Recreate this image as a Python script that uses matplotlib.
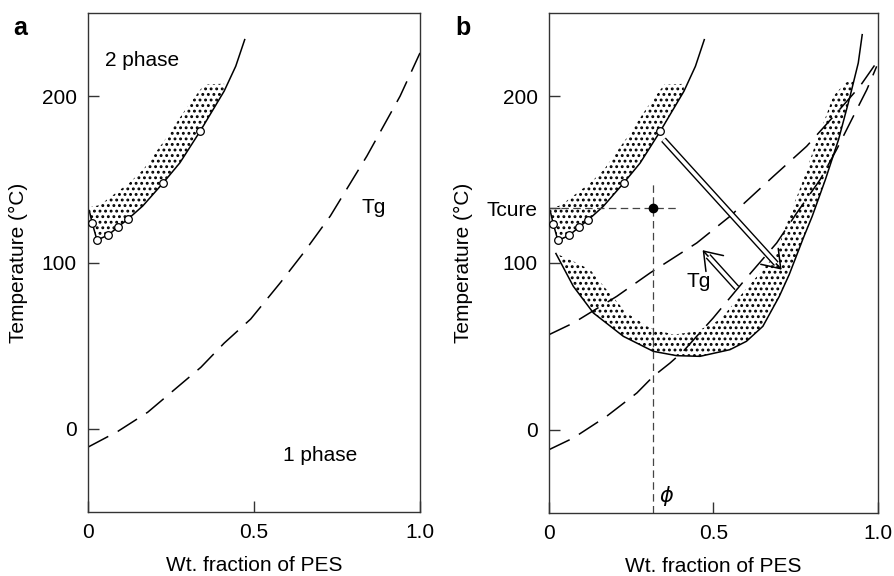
import matplotlib.pyplot as plt

plt.rcParams['font.family'] = ['Liberation Sans', 'DejaVu Sans']
plt.rcParams['hatch.linewidth'] = 1.3

# cloud point curve (solid) and measured points (open circles)
bin_x = [0.004, 0.013, 0.027, 0.061, 0.091, 0.12, 0.165, 0.227, 0.277, 0.338, 0.41, 0.445, 0.472]
bin_y = [131, 123.5, 113.5, 116.5, 121.5, 126, 134, 148, 160, 179, 203, 218, 234]
pts_x = [0.013, 0.027, 0.061, 0.091, 0.12, 0.227, 0.338]
pts_y = [123.5, 113.5, 116.5, 121.5, 126, 148, 179]

# upper edge of the stippled band above the cloud point curve
band_top_x = [0.0, 0.035, 0.125, 0.167, 0.236, 0.297, 0.35, 0.41]
band_top_y = [133, 134.5, 148, 156, 175, 193, 207, 207.5]

# Tg curve, panel a
tg_a_x = [0.0, 0.09, 0.18, 0.26, 0.34, 0.41, 0.49, 0.58, 0.65, 0.73, 0.84, 0.94, 1.0]
tg_a_y = [-11, -1.5, 10, 23.5, 37, 51.5, 66, 88, 106, 128, 164, 200, 226]

# panel b: lower Tg curve and upper (cured) Tg curve
tg_b_x = [0.0, 0.074, 0.175, 0.267, 0.317, 0.368, 0.408, 0.499, 0.6, 0.692, 0.753, 0.824, 0.874, 0.925, 0.966, 0.996]
tg_b_y = [-12, -5, 8, 22, 32, 40, 47, 67, 91, 112, 130, 150, 168, 188, 204, 218]
tg2_x = [0.0, 0.074, 0.206, 0.307, 0.449, 0.55, 0.682, 0.783, 0.874, 0.945, 0.991]
tg2_y = [57, 64, 80, 94, 112, 128, 152, 170, 190, 206, 219]

# panel b: shifted U-shaped phase boundary and inner edge of its band
u_x = [0.021, 0.074, 0.135, 0.226, 0.317, 0.388, 0.459, 0.55, 0.60, 0.65, 0.70, 0.73, 0.773,
       0.80, 0.84, 0.88, 0.915, 0.94, 0.952]
u_y = [105.7, 86, 70, 56, 47, 44.4, 44, 48, 53, 62, 80, 93, 115, 128, 150, 174, 200, 220, 237]
u_in_x = [0.021, 0.074, 0.125, 0.175, 0.236, 0.307, 0.378, 0.449, 0.52, 0.58, 0.641, 0.692, 0.712,
          0.742, 0.773, 0.804, 0.834, 0.864, 0.90, 0.928]
u_in_y = [105.7, 101, 96, 84, 70, 61, 57, 59, 66, 80, 94, 106, 118, 134, 150, 168, 184, 200, 208, 210]

tcure = 133
phi = 0.315
tcure_line_end = 0.39
phi_line_top = 148

# hollow arrows: (start, tip)
arrow_down = ((0.348, 174), (0.707, 96))
arrow_up = ((0.571, 85), (0.467, 107.7))

fig = plt.figure(figsize=(8.95, 5.76), dpi=100)
ax_a = fig.add_axes([88 / 895, 1 - 512 / 576, 332 / 895, 499 / 576])
ax_b = fig.add_axes([549 / 895, 1 - 513 / 576, 329 / 895, 500 / 576])

dash_long = (0, (15, 7))
dash_short = (0, (6, 3.5))


def style_axes(ax):
    ax.set_xlim(0, 1)
    ax.set_ylim(-50, 250)
    ax.set_xticks([0, 0.5, 1.0])
    ax.set_xticklabels(['0', '0.5', '1.0'])
    ax.tick_params(direction='in', length=8, width=1, pad=8, labelsize=15, color='#333333')
    for s in ax.spines.values():
        s.set_linewidth(1.0)
        s.set_color('#333333')
    ax.set_xlabel('Wt. fraction of PES', fontsize=15, labelpad=10)
    ax.set_ylabel('Temperature (°C)', fontsize=15, labelpad=10)


def cloud_curve(ax):
    poly_x = band_top_x + [x for x in bin_x if x <= 0.41][::-1]
    poly_y = band_top_y + [y for x, y in zip(bin_x, bin_y) if x <= 0.41][::-1]
    ax.fill(poly_x, poly_y, facecolor='none', edgecolor='black', linewidth=0, hatch='...')
    ax.plot(bin_x, bin_y, color='black', lw=1.1)
    ax.plot(pts_x, pts_y, 'o', ms=5.5, mfc='white', mec='black', mew=0.9, zorder=5)


def hollow_arrow(ax, start, tip, frac):
    (sx, sy), (tx, ty) = start, tip
    ex, ey = sx + frac * (tx - sx), sy + frac * (ty - sy)
    ax.plot([sx, ex], [sy, ey], color='black', lw=4.6, solid_capstyle='butt', zorder=6)
    ax.plot([sx, ex], [sy, ey], color='white', lw=2.6, solid_capstyle='butt', zorder=7)
    ax.annotate('', xy=tip, xytext=(ex, ey),
                arrowprops=dict(arrowstyle='->,head_length=1.2,head_width=0.85',
                                lw=1.1, color='black', shrinkA=0, shrinkB=0),
                zorder=8)


# ---- panel a ----
style_axes(ax_a)
ax_a.set_yticks([0, 100, 200])
cloud_curve(ax_a)
ax_a.plot(tg_a_x, tg_a_y, color='black', lw=1.1, linestyle=dash_long)
ax_a.text(0.05, 221.6, '2 phase', fontsize=15, va='center', ha='left')
ax_a.text(0.587, -16, '1 phase', fontsize=15, va='center', ha='left')
ax_a.text(0.824, 133, 'Tg', fontsize=15, va='center', ha='left')

# ---- panel b ----
style_axes(ax_b)
ax_b.set_yticks([0, 100, tcure, 200])
ax_b.set_yticklabels(['0', '100', 'Tcure', '200'])
cloud_curve(ax_b)

n_out = sum(1 for x in u_x if x <= 0.925)
ax_b.fill(u_x[:n_out] + u_in_x[::-1], u_y[:n_out] + u_in_y[::-1],
          facecolor='none', edgecolor='black', linewidth=0, hatch='...')
ax_b.plot(u_x, u_y, color='black', lw=1.1)

ax_b.plot(tg_b_x, tg_b_y, color='black', lw=1.1, linestyle=dash_long)
ax_b.plot(tg2_x, tg2_y, color='black', lw=1.1, linestyle=dash_long)

ax_b.plot([0, tcure_line_end], [tcure, tcure], color='#444444', lw=0.9, linestyle=dash_short)
ax_b.plot([phi, phi], [-50, phi_line_top], color='#444444', lw=0.9, linestyle=dash_short)
ax_b.plot(phi, tcure, 'o', ms=6, color='black', zorder=6)

hollow_arrow(ax_b, arrow_down[0], arrow_down[1], 0.955)
hollow_arrow(ax_b, arrow_up[0], arrow_up[1], 0.84)

ax_b.text(0.419, 89, 'Tg', fontsize=15, va='center', ha='left')
ax_b.text(0.335, -40, r'$\phi$', fontsize=15, va='center', ha='left')

fig.text(13 / 895, 1 - 35 / 576, 'a', fontsize=18, fontweight='bold')
fig.text(455 / 895, 1 - 35 / 576, 'b', fontsize=18, fontweight='bold')

fig.savefig('out.png', dpi=100)
